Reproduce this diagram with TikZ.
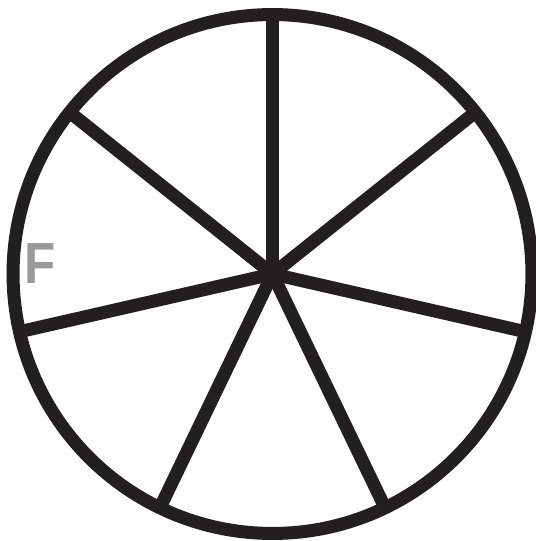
\documentclass[tikz,border=0pt]{standalone}
\usepackage{fontspec}
\setmainfont{Liberation Sans}
\usepackage{tikz}
\usetikzlibrary{calc}
\definecolor{wheelink}{RGB}{35,31,32}
\definecolor{labelgray}{RGB}{152,153,155}

\begin{document}
\begin{tikzpicture}[
        x=0.02cm, y=-0.02cm,
        rim/.style={draw=wheelink, line width=0.26cm},
        spoke/.style={draw=wheelink, line width=0.26cm},
        lbl/.style={text=labelgray, font=\bfseries\fontsize{33}{33}\selectfont, inner sep=0pt, xscale=0.88}
    ]
    \useasboundingbox (0,0) rectangle (535,541);

    % Hub and rim
    \coordinate (hub) at (272.5,274);
    \draw[rim] (hub) circle[radius=5.19cm];

    % Spokes
    \foreach \i in {0,...,6} {
        \coordinate (s\i) at ($(hub)+({90-\i*360/7}:5.19cm)$);
        \draw[spoke] (hub) -- (s\i);
    }

    % Label
    \node[lbl] (f) at (40,264) {F};

\end{tikzpicture}
\end{document}
